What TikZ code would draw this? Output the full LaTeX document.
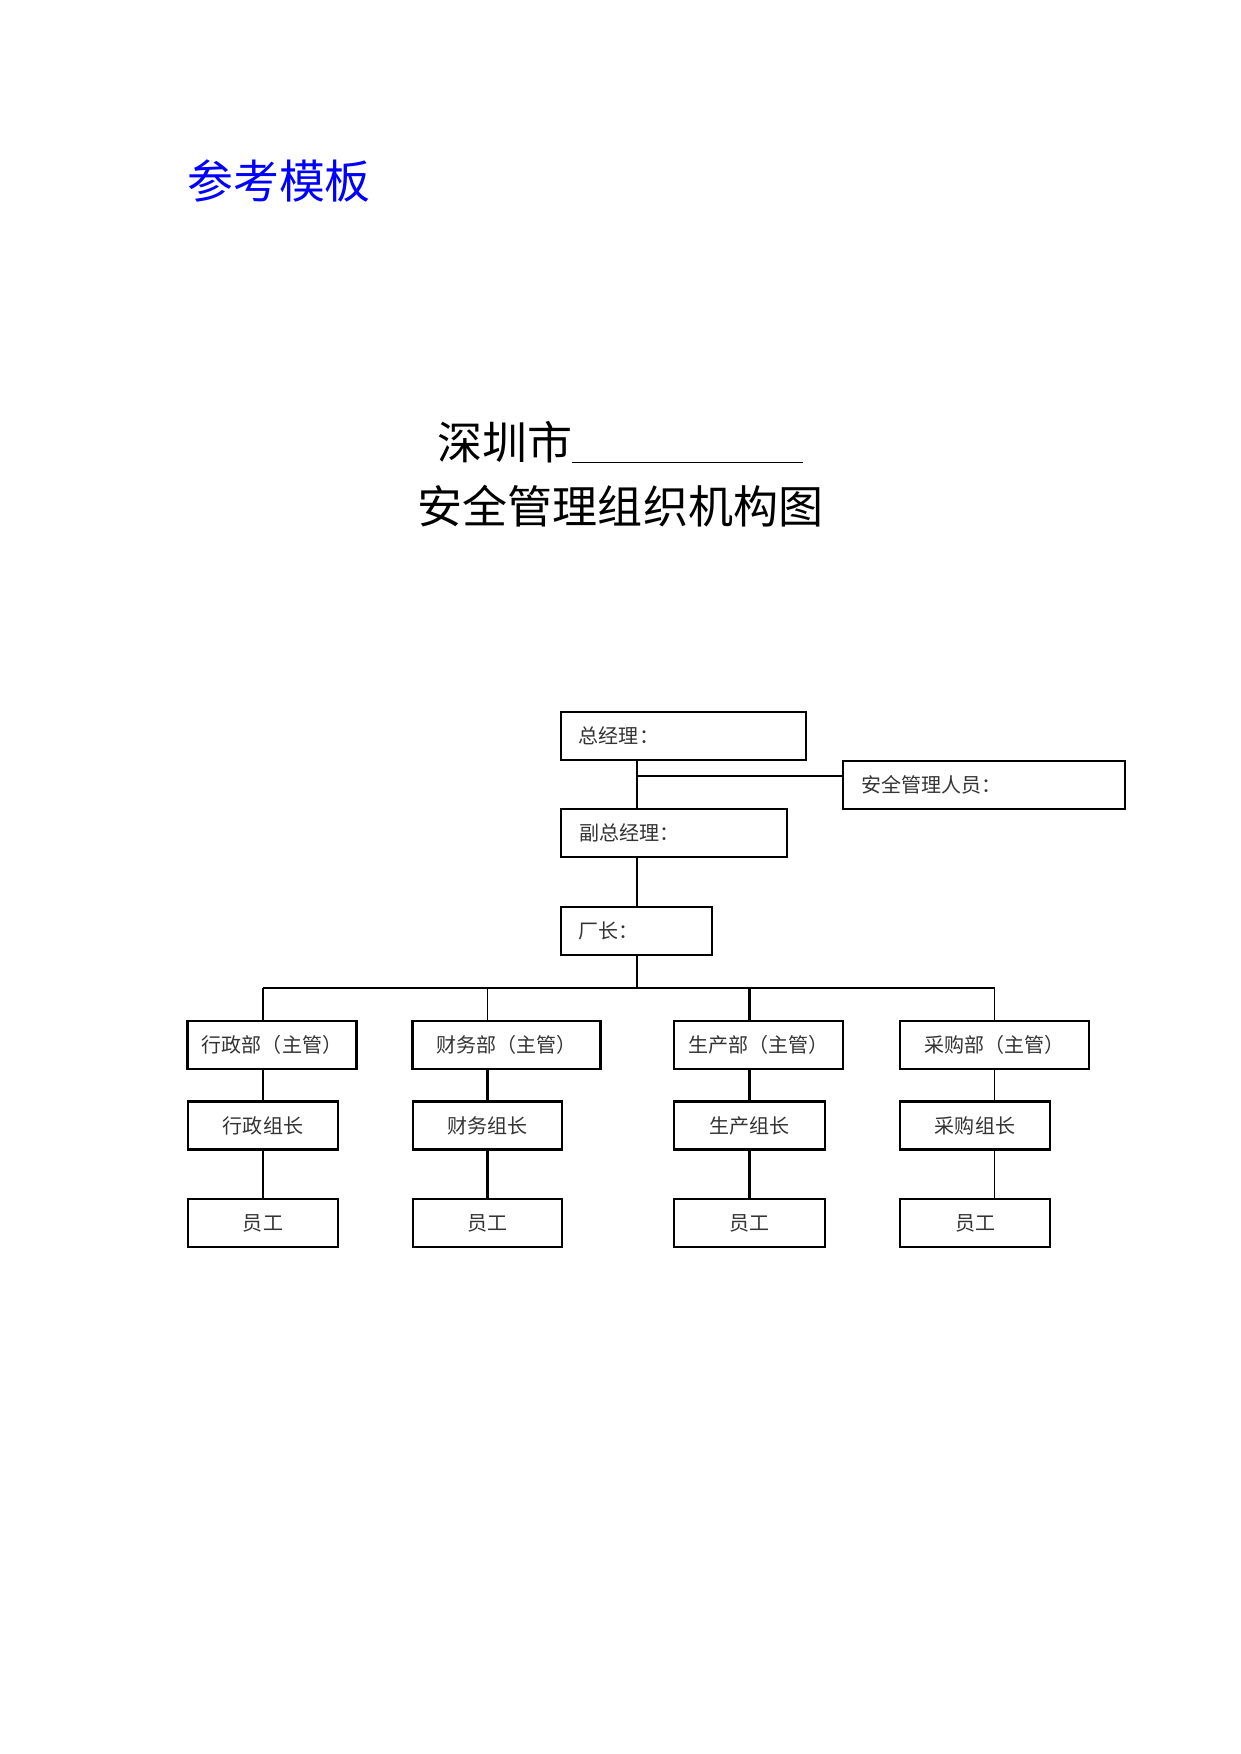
\documentclass[tikz,border=0pt]{standalone}
\usepackage{fontspec}
\newfontfamily\cjk{Noto Sans CJK SC}

\begin{document}
\begin{tikzpicture}[x=0.4797pt, y=-0.4797pt]
	\tikzset{box/.style={draw, line width=1pt, minimum height=23pt, inner sep=0pt, text=black!80, font=\cjk\fontsize{9.6}{11}\selectfont}}
	\tikzset{lbox/.style={box, align=left, inner xsep=8.6pt, text width=#1}}
	\tikzset{thinlink/.style={line width=0.5pt}}
	\tikzset{boldlink/.style={line width=1pt}}
	\useasboundingbox (0,0) rectangle (1241,1754);

	\node[anchor=base west, text=blue, font=\cjk\fontsize{22}{26}\selectfont] (tpl) at (180,198) {参考模板};
	\node[anchor=base west, font=\cjk\fontsize{21.6}{26}\selectfont] (city) at (430,459) {深圳市\underline{\hspace{110.5pt}}};
	\node[anchor=base, font=\cjk\fontsize{21.6}{26}\selectfont] (title) at (620.5,523) {安全管理组织机构图};

	% top of the chart
	\node[lbox=100.3pt] (gm) at (683.5,736) {总经理：};
	\node[lbox=118pt] (safe) at (984,785) {安全管理人员：};
	\node[lbox=91.1pt] (dgm) at (674,833) {副总经理：};
	\node[lbox=55.2pt] (fm) at (636.5,931) {厂长：};

	% departments
	\node[box, minimum width=81.1pt] (adm) at (272,1045) {行政部（主管）};
	\node[box, minimum width=90.2pt] (fin) at (506.5,1045) {财务部（主管）};
	\node[box, minimum width=81.1pt] (prd) at (758.5,1045) {生产部（主管）};
	\node[box, minimum width=90.7pt] (pur) at (994.5,1045) {采购部（主管）};

	\node[box, minimum width=72pt] (ladm) at (263,1125.5) {行政组长};
	\node[box, minimum width=71.5pt] (lfin) at (487.5,1125.5) {财务组长};
	\node[box, minimum width=72.4pt] (lprd) at (749.5,1125.5) {生产组长};
	\node[box, minimum width=72pt] (lpur) at (975,1125.5) {采购组长};

	\node[box, minimum width=72pt] (sadm) at (263,1223) {员工};
	\node[box, minimum width=71.5pt] (sfin) at (487.5,1223) {员工};
	\node[box, minimum width=72.4pt] (sprd) at (749.5,1223) {员工};
	\node[box, minimum width=72pt] (spur) at (975,1223) {员工};

	\coordinate (sj) at (637,776);
	\coordinate (bus) at (637,988);
	\coordinate (busend) at (902,988);

	\draw[thinlink] (gm.south -| bus) -- (dgm.north -| bus);
	\draw[boldlink] (sj) -- (sj -| safe.west);
	\draw[thinlink] (dgm.south -| bus) -- (fm.north -| bus);
	\draw[thinlink] (fm.south -| bus) -- (bus);
	\draw[boldlink] (bus -| ladm) -- (busend);
	\draw[thinlink] (busend) -- (busend -| pur.north) -- (pur.north);

	\draw[boldlink] (bus -| ladm) -- (ladm |- adm.north);
	\draw[boldlink] (ladm |- adm.south) -- (ladm.north);
	\draw[boldlink] (ladm.south) -- (sadm.north);

	\draw[thinlink] (bus -| lfin) -- (lfin |- fin.north);
	\draw[boldlink] (lfin |- fin.south) -- (lfin.north);
	\draw[boldlink] (lfin.south) -- (sfin.north);

	\draw[boldlink] (bus -| lprd) -- (lprd |- prd.north);
	\draw[boldlink] (lprd |- prd.south) -- (lprd.north);
	\draw[boldlink] (lprd.south) -- (sprd.north);

	\draw[thinlink] (pur.south) -- (pur.south |- lpur.north);
	\draw[thinlink] (pur.south |- lpur.south) -- (pur.south |- spur.north);
\end{tikzpicture}
\end{document}
